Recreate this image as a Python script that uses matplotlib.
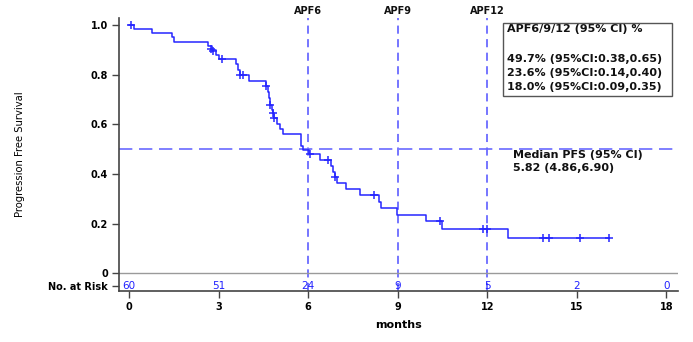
"""Kaplan-Meier progression-free survival curve with landmark APF lines and a risk table row."""
import matplotlib
matplotlib.use("Agg")
import matplotlib.pyplot as plt
from matplotlib.patches import Rectangle

# step function of the KM estimate: time (months) -> survival after the step
step_t = [0, 0.17, 0.78, 1.45, 1.52, 2.66, 2.78, 2.90, 3.00, 3.58, 3.64, 3.70,
          4.03, 4.60, 4.65, 4.68, 4.72, 4.78, 4.82, 4.86, 4.95, 5.05, 5.17,
          5.75, 5.82, 6.02, 6.40, 6.75, 6.82, 6.90, 6.95, 7.27, 7.74, 8.38,
          8.44, 8.98, 9.95, 10.48, 12.68, 16.08]
step_s = [1.000, 0.983, 0.967, 0.950, 0.933, 0.917, 0.900, 0.880, 0.862, 0.845,
          0.820, 0.797, 0.774, 0.755, 0.730, 0.705, 0.680, 0.660, 0.644, 0.624,
          0.600, 0.582, 0.560, 0.515, 0.497, 0.479, 0.456, 0.432, 0.410, 0.387,
          0.365, 0.338, 0.314, 0.288, 0.262, 0.236, 0.211, 0.180, 0.143, 0.143]

# censored observations
cens_t = [0.07, 2.74, 2.82, 3.10, 3.72, 3.81, 4.58, 4.72, 4.81, 4.86, 6.06,
          6.68, 6.90, 8.22, 10.42, 11.85, 11.98, 13.86, 14.08, 15.11, 16.08]
cens_s = [1.000, 0.905, 0.895, 0.862, 0.797, 0.797, 0.755, 0.680, 0.644, 0.624,
          0.479, 0.456, 0.387, 0.314, 0.211, 0.180, 0.180, 0.143, 0.143, 0.143,
          0.143]

risk_t = [0, 3, 6, 9, 12, 15, 18]
risk_n = [60, 51, 24, 9, 5, 2, 0]

apf_t = [6, 9, 12]
apf_pct = [49.7, 23.6, 18.0]
apf_lo = [0.38, 0.14, 0.09]
apf_hi = [0.65, 0.40, 0.35]

median_pfs = 5.82
median_ci = (4.86, 6.90)

BLUE = "#2626ff"
DASH = "#6a6aff"
BOLD = dict(fontweight="bold", color="#111111")

fig = plt.figure(figsize=(6.93, 3.42), dpi=100)
ax = fig.add_axes([0.172, 0.149, 0.806, 0.798])
ax.set_xlim(-0.33, 18.38)
ax.set_ylim(-0.071, 1.028)

# landmark and median reference lines
for t in apf_t:
    ax.axvline(t, color=DASH, lw=1.3, dashes=(4.5, 3), zorder=1)
    ax.text(t, 1.056, f"APF{t}", ha="center", va="center", fontsize=7,
            clip_on=False, **BOLD)
ax.axhline(0.5, color=DASH, lw=1.2, dashes=(8, 4), zorder=1)
ax.axhline(0, color="#9a9a9a", lw=1, zorder=1)

ax.step(step_t, step_s, where="post", color=BLUE, lw=1.1, zorder=3)
ax.plot(cens_t, cens_s, ls="none", marker="+", ms=6, mew=1.1, color=BLUE,
        zorder=4)

# number at risk row
for t, n in zip(risk_t, risk_n):
    ax.text(t, -0.05, str(n), ha="center", va="center", fontsize=7.5,
            color="#2020ff")

ax.set_yticks([-0.05, 0, 0.2, 0.4, 0.6, 0.8, 1.0])
ax.set_yticklabels(["No. at Risk", "0", "0.2", "0.4", "0.6", "0.8", "1.0"])
ax.set_xticks(risk_t)
for lab in ax.get_xticklabels() + ax.get_yticklabels():
    lab.set_fontweight("bold")
    lab.set_fontsize(7)
ax.tick_params(length=5, width=1, color="#444444", pad=3)

for side in ("top", "right"):
    ax.spines[side].set_visible(False)
for side in ("left", "bottom"):
    ax.spines[side].set_color("#444444")
    ax.spines[side].set_linewidth(1.2)

ax.set_xlabel("months", fontsize=8, fontweight="bold", labelpad=6)
fig.text(0.029, 0.55, "Progression Free Survival", rotation=90, ha="center",
         va="center", fontsize=8, family="DejaVu Sans", fontstretch="condensed")

# APF summary box
ax.add_patch(Rectangle((12.54, 0.715), 5.66, 0.292, fill=False,
                       ec="#555555", lw=1, clip_on=False, zorder=5))
ax.text(12.67, 0.983, "APF6/9/12 (95% CI) %", ha="left", va="center",
        fontsize=8, **BOLD)
for y, p, lo, hi in zip([0.864, 0.808, 0.749], apf_pct, apf_lo, apf_hi):
    ax.text(12.67, y, f"{p:.1f}% (95%CI:{lo:.2f},{hi:.2f})", ha="left",
            va="center", fontsize=8, **BOLD)

ax.text(12.85, 0.476, "Median PFS (95% CI)", ha="left", va="center",
        fontsize=8, **BOLD)
ax.text(12.85, 0.423, f"{median_pfs:.2f} ({median_ci[0]:.2f},{median_ci[1]:.2f})",
        ha="left", va="center", fontsize=8, **BOLD)

fig.savefig("out.png", dpi=100)
